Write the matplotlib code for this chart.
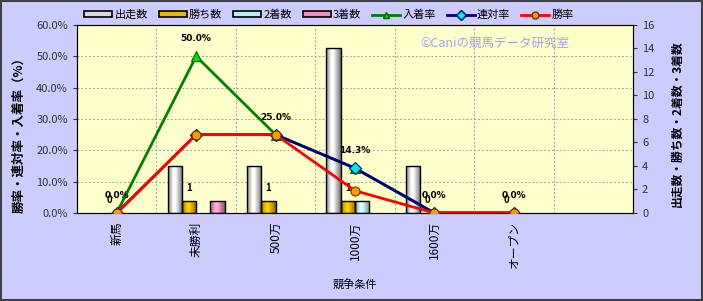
import numpy as np
import matplotlib.pyplot as plt
from matplotlib.colors import LinearSegmentedColormap
from matplotlib.lines import Line2D
from matplotlib.patches import Patch, Rectangle

plt.rcParams['font.family'] = ['Noto Sans CJK JP', 'DejaVu Sans']

# data
categories = ['新馬', '未勝利', '500万', '1000万', '1600万', 'オープン']
starts = [0, 4, 4, 14, 4, 0]
wins = [0, 1, 1, 1, 0, 0]
seconds = [0, 0, 0, 1, 0, 0]
thirds = [0, 1, 0, 0, 0, 0]
place_rate = [0.0, 50.0, 25.0, 14.3, 0.0, 0.0]
rentai_rate = [0.0, 25.0, 25.0, 14.3, 0.0, 0.0]
win_rate = [0.0, 25.0, 25.0, 7.1, 0.0, 0.0]

BG = '#CCCCFF'
PLOT_BG = '#FFFFCC'

bar_series = [
    ('出走数', starts, ('#808080', '#ffffff', '#707070'), '#d8d8d8'),
    ('勝ち数', wins, ('#a07000', '#ffd000', '#906000'), '#e6b800'),
    ('2着数', seconds, ('#70a0a0', '#e0ffff', '#689898'), '#b8eeee'),
    ('3着数', thirds, ('#b0507c', '#ffb0d8', '#a04870'), '#f090c0'),
]
line_series = [
    ('入着率', place_rate, '#008000', '^', '#00e000', '#006000'),
    ('連対率', rentai_rate, '#000080', 'D', '#00e8e8', '#000080'),
    ('勝率', win_rate, '#ff0000', 'o', '#ff9900', '#663300'),
]


def gradient_bars(ax, xs, heights, width, colors):
    cmap = LinearSegmentedColormap.from_list(
        'g', [(0.0, colors[0]), (0.35, colors[1]), (0.5, colors[1]), (1.0, colors[2])])
    grad = np.linspace(0, 1, 64).reshape(1, -1)
    for x, h in zip(xs, heights):
        if h <= 0:
            continue
        im = ax.imshow(grad, cmap=cmap, aspect='auto', extent=(x - width / 2, x + width / 2, 0, h),
                       zorder=2, interpolation='bilinear')
        rect = Rectangle((x - width / 2, 0), width, h, facecolor='none', edgecolor='black',
                         linewidth=1.0, zorder=3)
        ax.add_patch(rect)
        im.set_clip_path(rect)


fig = plt.figure(figsize=(7.03, 3.01), dpi=100, facecolor=BG)
fig.patches.append(Rectangle((0.001, 0.002), 0.997, 0.995, transform=fig.transFigure,
                             facecolor='none', edgecolor='#404040', linewidth=1.5))

axb = fig.add_axes([0.1095, 0.2924, 0.7909, 0.6246])
axb.set_facecolor(PLOT_BG)
x = np.arange(len(categories))
w = 0.18
offsets = [-1.5 * w, -0.5 * w, 0.5 * w, 1.5 * w]

# grid follows left axis (10% steps)
for k in range(1, 6):
    axb.axhline(k * 16 / 6, color='#a0a0a0', linestyle=(0, (2, 2)), linewidth=0.7, zorder=1)
for k in range(len(categories)):
    axb.axvline(k + 0.5, color='#a0a0a0', linestyle=(0, (2, 2)), linewidth=0.7, zorder=1)

for (name, vals, cols, flat), off in zip(bar_series, offsets):
    gradient_bars(axb, x + off, vals, w, cols)

for xi, v in zip(x, wins):
    axb.annotate(str(v), (xi + offsets[1], v), xytext=(0, 9.5), textcoords='offset points',
                 ha='center', va='center', fontsize=7, fontweight='bold', zorder=6)

axb.set_xlim(-0.5, 6.5)
axb.set_ylim(0, 16)
axb.set_xticks(x)
axb.set_xticklabels(categories, rotation=90, fontsize=8.5)
axb.tick_params(axis='x', length=0, pad=6)
axb.set_xlabel('競争条件', fontsize=8, labelpad=8)
for s in axb.spines.values():
    s.set_color('#333333')

axl = axb.twinx()
axl.set_ylim(0, 60)
axl.patch.set_visible(False)

# bars' count scale on the right, rates on the left
axb.set_yticks(np.arange(0, 17, 2))
axb.yaxis.tick_right()
axb.yaxis.set_label_position('right')
axb.set_ylabel('出走数・勝ち数・2着数・3着数', fontsize=8.5, fontweight='bold')
axb.yaxis.set_label_coords(1.067, 0.473)
axb.tick_params(axis='y', labelsize=8, length=3, colors='#333333')

axl.yaxis.tick_left()
axl.yaxis.set_label_position('left')
axl.set_yticks(np.arange(0, 61, 10))
axl.set_yticklabels([f'{v:.1f}%' for v in np.arange(0, 61, 10)])
axl.tick_params(axis='y', labelsize=8, length=3, colors='#333333')
axl.set_ylabel('勝率・連対率・入着率（%）', fontsize=9, fontweight='bold')
axl.yaxis.set_label_coords(-0.092, 0.43)

for name, vals, col, mk, mfc, mec in line_series:
    axl.plot(x, vals, color=col, linewidth=2, marker=mk, markersize=6.5,
             markerfacecolor=mfc, markeredgecolor=mec, markeredgewidth=0.8, zorder=5)

for xi, v in zip(x, place_rate):
    axl.annotate(f'{v:.1f}%', (xi, v), xytext=(0, 12.5), textcoords='offset points',
                 ha='center', va='center', fontsize=6.5, fontweight='bold',
                 family='DejaVu Sans', zorder=6)

axl.text(0.752, 0.9, '©Caniの競馬データ研究室', transform=axl.transAxes, ha='center',
         va='center', fontsize=9, color='#9fa0f5')

handles = []
for name, vals, cols, flat in bar_series:
    handles.append(Patch(facecolor=flat, edgecolor='black', linewidth=1.2, label=name))
for name, vals, col, mk, mfc, mec in line_series:
    handles.append(Line2D([], [], color=col, linewidth=2, marker=mk, markersize=5,
                          markerfacecolor=mfc, markeredgecolor=mec, label=name))
fig.legend(handles=handles, loc='center left', bbox_to_anchor=(0.112, 0.95), ncol=7,
           frameon=False, fontsize=8, handlelength=2.5, handleheight=0.5,
           columnspacing=1.0, handletextpad=0.2, borderpad=0)

fig.savefig('out.png', dpi=100, facecolor=BG)
